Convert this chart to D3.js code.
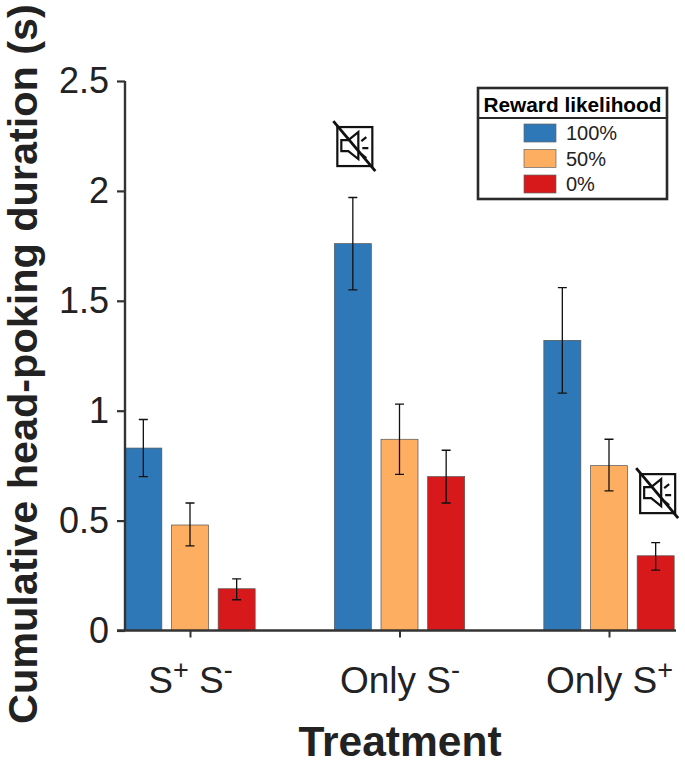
<!DOCTYPE html>
<html><head><meta charset="utf-8">
<script src="https://cdn.jsdelivr.net/npm/d3@7/dist/d3.min.js"></script>
<style>html,body{margin:0;padding:0;background:#fff}svg{display:block}text{font-family:"Liberation Sans",Arial,sans-serif;fill:#222}</style>
</head><body><svg id="c" width="685" height="765"></svg>
<script>
const treatments = ["S+ S-", "Only S-", "Only S+"];
const likelihoods = ["100%", "50%", "0%"];
const colors = ["#2f78b7", "#fdae61", "#d7191c"];
const yTicks = [0, 0.5, 1, 1.5, 2, 2.5];
const means100 = [0.83, 1.76, 1.32];
const means50 = [0.48, 0.87, 0.75];
const means0 = [0.19, 0.70, 0.34];
const lower100 = [0.70, 1.55, 1.08];
const upper100 = [0.96, 1.97, 1.56];
const lower50 = [0.385, 0.71, 0.635];
const upper50 = [0.58, 1.03, 0.87];
const lower0 = [0.14, 0.58, 0.275];
const upper0 = [0.235, 0.82, 0.40];
const muted = [{t: "Only S-", s: 0, v: 2.204}, {t: "Only S+", s: 2, v: 0.625}];

const svg = d3.select("#c");
const x = d3.scaleBand().domain(treatments).range([85.75, 714.25]);
const xi = d3.scaleBand().domain(likelihoods).range([x.bandwidth()/2 - 70, x.bandwidth()/2 + 70]);
const y = d3.scaleLinear().domain([0, 2.5]).range([630.5, 81]);
const barW = 37;

const means = [means100, means50, means0], lows = [lower100, lower50, lower0], ups = [upper100, upper50, upper0];
const rows = [];
treatments.forEach((t, i) => likelihoods.forEach((l, j) => rows.push({t, l, j, m: means[j][i], lo: lows[j][i], hi: ups[j][i]})));
const cx = d => x(d.t) + xi(d.l) + xi.bandwidth()/2;

svg.append("g").selectAll("rect").data(rows).join("rect")
  .attr("x", d => cx(d) - barW/2 - 0.5).attr("width", barW)
  .attr("y", d => y(d.m)).attr("height", d => y(0) - y(d.m))
  .attr("fill", d => colors[d.j]).attr("stroke", "#555").attr("stroke-width", 0.7);

const eb = svg.append("g").attr("stroke", "#111").attr("stroke-width", 1.3).attr("fill", "none");
rows.forEach(d => {
  const c = cx(d) - 0.5, cap = 4.5;
  eb.append("path").attr("d", `M${c},${y(d.lo)}V${y(d.hi)}M${c-cap},${y(d.lo)}H${c+cap}M${c-cap},${y(d.hi)}H${c+cap}`);
});

// axes
const gy = svg.append("g").attr("transform", "translate(125,0)")
  .call(d3.axisLeft(y).tickValues(yTicks).tickFormat(d3.format("~g")).tickSize(8).tickPadding(8));
gy.selectAll("text").attr("font-size", 36).style("fill", "#222");
gy.selectAll("line").attr("stroke", "#333").attr("stroke-width", 2.2);
gy.select(".domain").attr("stroke", "#333").attr("stroke-width", 2.4).attr("d", `M0,${y(2.5)}V${y(0)}`);

const gx = svg.append("g").attr("transform", `translate(0,${y(0)})`)
  .call(d3.axisBottom(x).tickSize(7).tickFormat(""));
gx.selectAll("line").attr("stroke", "#333").attr("stroke-width", 2);
gx.select(".domain").attr("stroke", "#333").attr("stroke-width", 2.4).attr("d", "M117,0H676");

// category labels with superscripts
const labelParts = {
  "S+ S-": [["S",0],["+",1],[" S",0],["-",1]],
  "Only S-": [["Only S",0],["-",1]],
  "Only S+": [["Only S",0],["+",1]]
};
treatments.forEach(t => {
  const txt = svg.append("text").attr("x", x(t) + x.bandwidth()/2).attr("y", 693)
    .attr("text-anchor", "middle").attr("font-size", 37).attr("xml:space", "preserve").style("white-space", "pre");
  let prevSup = false;
  labelParts[t].forEach(([s, sup]) => {
    const sp = txt.append("tspan").text(s);
    if (sup) sp.attr("dy", -14).attr("font-size", 27);
    else if (prevSup) sp.attr("dy", 14);
    prevSup = !!sup;
  });
});

svg.append("text").attr("x", 400).attr("y", 755.5).attr("text-anchor", "middle")
  .attr("font-size", 42.5).attr("font-weight", "bold").text("Treatment");
svg.append("text").attr("transform", "translate(37,364) rotate(-90)").attr("text-anchor", "middle")
  .attr("font-size", 41.4).attr("font-weight", "bold").text("Cumulative head-poking duration (s)");

// legend
const lg = svg.append("g").attr("transform", "translate(478,88)");
lg.append("rect").attr("width", 189).attr("height", 111).attr("fill", "#fff").attr("stroke", "#2a2a2a").attr("stroke-width", 2.6);
lg.append("line").attr("x1", 0).attr("x2", 189).attr("y1", 30).attr("y2", 30).attr("stroke", "#2a2a2a").attr("stroke-width", 2.2);
lg.append("text").attr("x", 94.5).attr("y", 24).attr("text-anchor", "middle").attr("font-size", 20.8).attr("font-weight", "bold").style("fill", "#000").text("Reward likelihood");
const rowY = d3.scalePoint().domain(likelihoods).range([45, 96]);
likelihoods.forEach((l, j) => {
  lg.append("rect").attr("x", 46).attr("y", rowY(l) - 9).attr("width", 32).attr("height", 18)
    .attr("fill", colors[j]).attr("stroke", "#666").attr("stroke-width", 0.7);
  lg.append("text").attr("x", 88).attr("y", rowY(l) + 7).attr("font-size", 20).text(l);
});

// mute icons
muted.forEach(m => {
  const cxm = x(m.t) + xi(likelihoods[m.s]) + xi.bandwidth()/2 + 1;
  const g = svg.append("g").attr("transform", `translate(${cxm},${y(m.v)})`).attr("fill", "none").attr("stroke", "#111");
  g.append("rect").attr("x", -17).attr("y", -19).attr("width", 35).attr("height", 39).attr("fill", "#fff").attr("stroke-width", 2.2);
  g.append("path").attr("stroke-width", 2.2).attr("d", "M-13,-6H-6L4,-14V13L-6,5H-13Z");
  g.append("path").attr("stroke-width", 2.2).attr("d", "M7,-5L12,-9M8,2H14M7,8L12,12");
  g.append("line").attr("x1", -21).attr("y1", -25).attr("x2", 21).attr("y2", 25).attr("stroke-width", 2.8);
});
</script></body></html>
